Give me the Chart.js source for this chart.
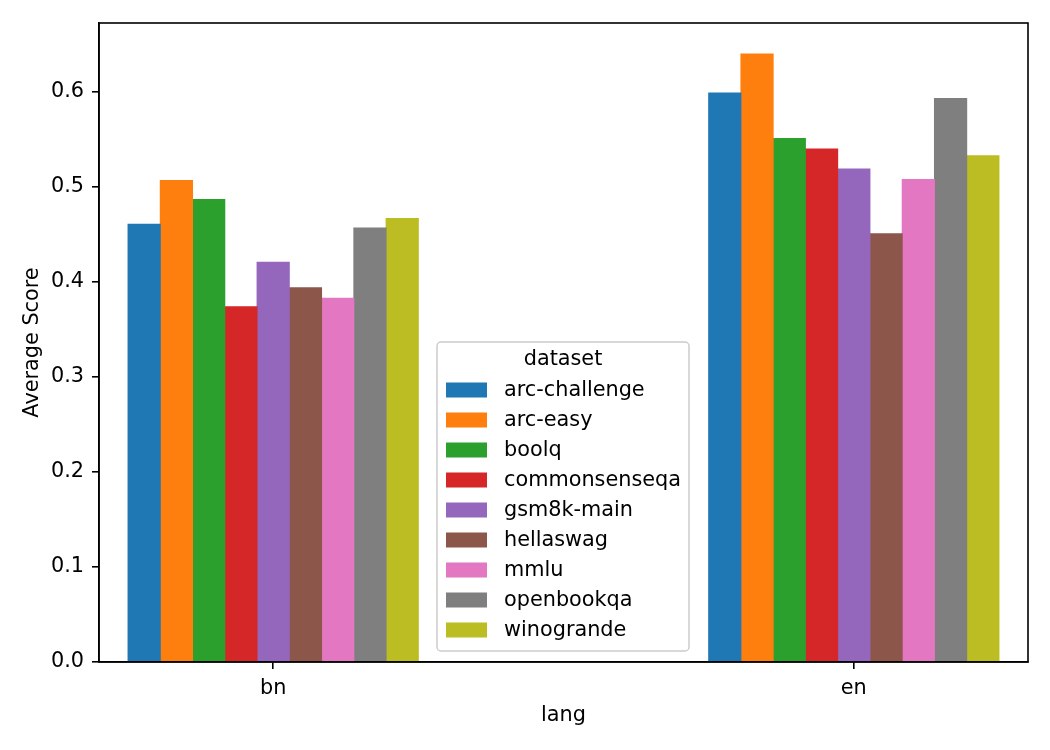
<!DOCTYPE html>
<html>
<head>
<meta charset="utf-8">
<script src="https://cdn.jsdelivr.net/npm/chart.js@4/dist/chart.umd.min.js"></script>
<style>
  html, body { margin: 0; padding: 0; background: #fff; }
  #wrap { width: 1050px; height: 750px; }
</style>
</head>
<body>
<div id="wrap"><canvas id="c" width="1050" height="750"></canvas></div>
<script>
const categories = ['bn', 'en'];
const datasetNames = ['arc-challenge', 'arc-easy', 'boolq', 'commonsenseqa', 'gsm8k-main', 'hellaswag', 'mmlu', 'openbookqa', 'winogrande'];
const arcChallenge = [0.461, 0.599];
const arcEasy = [0.507, 0.640];
const boolq = [0.487, 0.551];
const commonsenseqa = [0.374, 0.540];
const gsm8kMain = [0.421, 0.519];
const hellaswag = [0.394, 0.451];
const mmlu = [0.383, 0.508];
const openbookqa = [0.457, 0.593];
const winogrande = [0.467, 0.533];
const yTickValues = [0.0, 0.1, 0.2, 0.3, 0.4, 0.5, 0.6];

const seriesValues = [arcChallenge, arcEasy, boolq, commonsenseqa, gsm8kMain, hellaswag, mmlu, openbookqa, winogrande];
const colors = ['#1f77b4', '#ff7f0e', '#2ca02c', '#d62728', '#9467bd', '#8c564b', '#e377c2', '#7f7f7f', '#bcbd22'];

const FONT = "'DejaVu Sans', sans-serif";
const FS = 20.8;

const datasets = datasetNames.map((name, i) => ({
  label: name,
  data: categories.map((c, j) => ({ x: j, y: seriesValues[i][j] })),
  backgroundColor: colors[i],
  borderWidth: 0,
  categoryPercentage: 0.5,
  barPercentage: 1.03
}));

const allVals = seriesValues.flat();
const yMax = Math.max(...allVals) * 1.05;

const framePlugin = {
  id: 'frame',
  afterDatasetsDraw(chart) {
    const { ctx, chartArea: a } = chart;
    ctx.save();
    ctx.strokeStyle = '#000';
    ctx.lineWidth = 1.6;
    ctx.strokeRect(a.left, a.top, a.right - a.left, a.bottom - a.top);
    ctx.restore();
  }
};

const legendPlugin = {
  id: 'mplLegend',
  afterDraw(chart) {
    const { ctx } = chart;
    const x = 437, y = 342, w = 252, h = 309, r = 4;
    ctx.save();
    ctx.beginPath();
    ctx.moveTo(x + r, y);
    ctx.arcTo(x + w, y, x + w, y + h, r);
    ctx.arcTo(x + w, y + h, x, y + h, r);
    ctx.arcTo(x, y + h, x, y, r);
    ctx.arcTo(x, y, x + w, y, r);
    ctx.closePath();
    ctx.fillStyle = 'rgba(255,255,255,0.8)';
    ctx.fill();
    ctx.strokeStyle = '#cccccc';
    ctx.lineWidth = 1.5;
    ctx.stroke();
    ctx.font = FS + 'px ' + FONT;
    ctx.fillStyle = '#000';
    ctx.textBaseline = 'middle';
    ctx.textAlign = 'center';
    ctx.fillText('dataset', x + w / 2, 360);
    ctx.textAlign = 'left';
    chart.data.datasets.forEach((ds, i) => {
      const cy = 390 + 30 * i;
      ctx.fillStyle = ds.backgroundColor;
      ctx.fillRect(446, cy - 7.5, 41, 15);
      ctx.fillStyle = '#000';
      ctx.fillText(ds.label, 504, cy + 1);
    });
    ctx.restore();
  }
};

new Chart(document.getElementById('c'), {
  type: 'bar',
  data: { datasets },
  options: {
    responsive: false,
    animation: false,
    layout: { padding: { left: 0, top: 23, right: 22, bottom: 0 } },
    plugins: {
      legend: { display: false },
      tooltip: { enabled: false }
    },
    scales: {
      x: {
        type: 'linear',
        min: -0.3,
        max: 1.3,
        offset: false,
        afterBuildTicks(scale) {
          scale.ticks = categories.map((c, j) => ({ value: j }));
        },
        afterFit(scale) { scale.height = 88; },
        ticks: {
          callback: (v) => categories[Math.round(v)] ?? '',
          font: { family: FONT, size: FS },
          color: '#000',
          padding: 7,
          maxRotation: 0,
          autoSkip: false
        },
        grid: { offset: false, drawOnChartArea: false, drawTicks: true, tickLength: 7, color: '#000', lineWidth: 1.6 },
        border: { display: true, color: '#000', width: 1.6 },
        title: {
          display: true,
          text: 'lang',
          font: { family: FONT, size: FS },
          color: '#000',
          padding: { top: 0, bottom: 22 }
        }
      },
      y: {
        min: 0,
        max: yMax,
        afterBuildTicks(scale) {
          scale.ticks = yTickValues.map(v => ({ value: v }));
        },
        afterFit(scale) { scale.width = 99; },
        ticks: {
          callback: (v) => Number(v).toFixed(1),
          font: { family: FONT, size: FS },
          color: '#000',
          padding: 8
        },
        grid: { drawOnChartArea: false, drawTicks: true, tickLength: 7, color: '#000', lineWidth: 1.6 },
        border: { display: true, color: '#000', width: 1.6 },
        title: {
          display: true,
          text: 'Average Score',
          font: { family: FONT, size: FS },
          color: '#000',
          padding: { top: 20, bottom: 0 }
        }
      }
    }
  },
  plugins: [framePlugin, legendPlugin]
});
</script>
</body>
</html>
